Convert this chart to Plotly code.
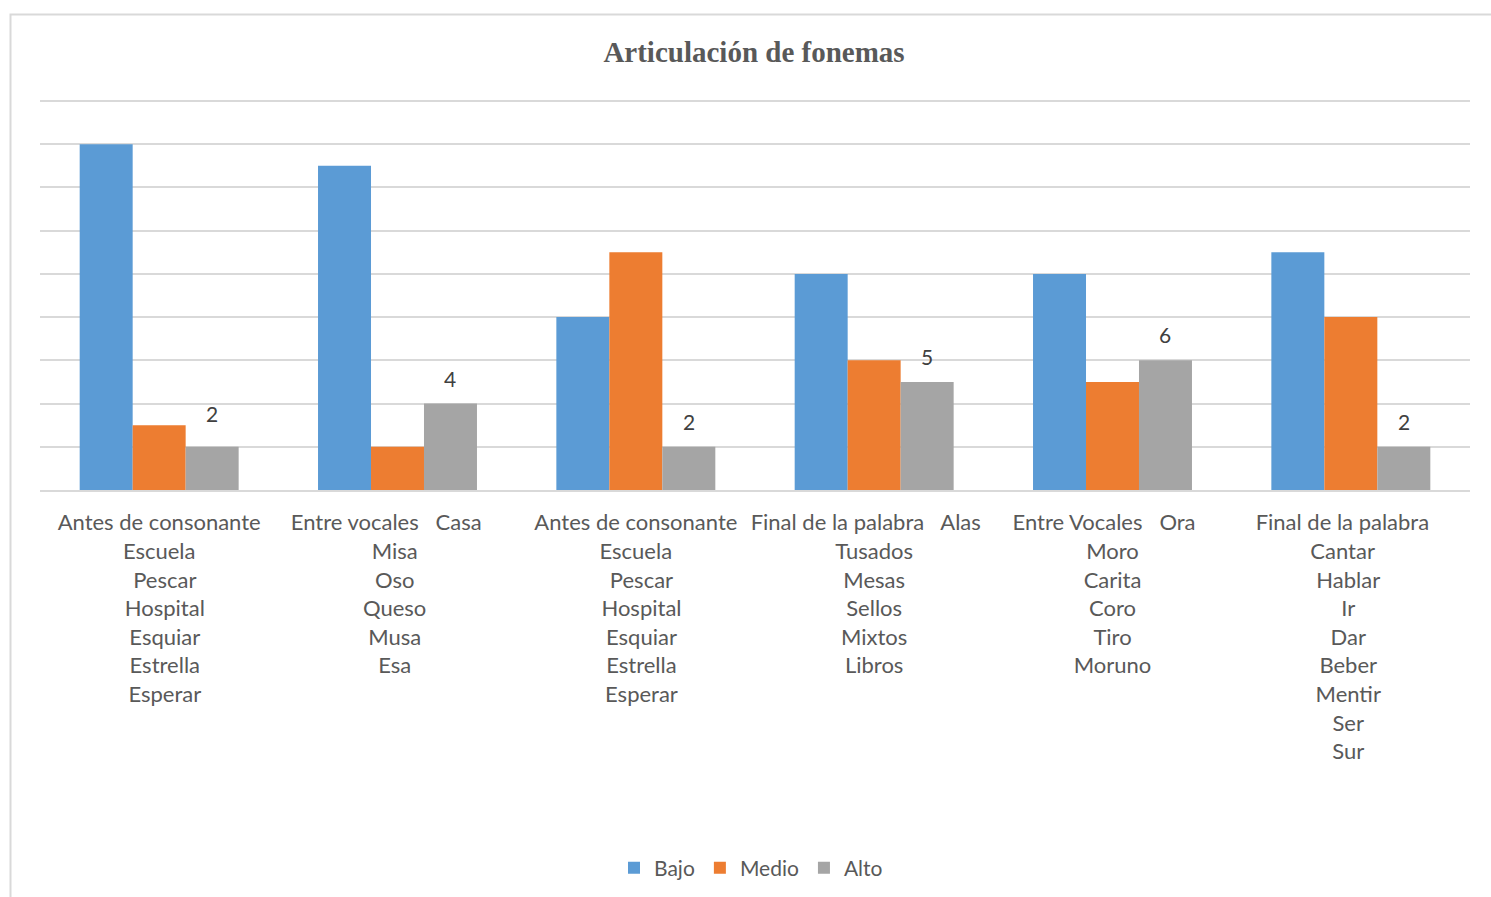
import plotly.graph_objects as go

NB = "\u00a0"

# Categories (multi-line labels: position + example words)
categories = [
    ["Antes de consonante", "Escuela", "  Pescar", "  Hospital", "  Esquiar", "  Estrella", "  Esperar"],
    ["Entre vocales   Casa    ", "Misa ", "Oso ", "Queso ", "Musa ", "Esa "],
    ["Antes de consonante", "Escuela", "  Pescar", "  Hospital", "  Esquiar", "  Estrella", "  Esperar"],
    ["Final de la palabra   Alas   ", "Tusados", "Mesas", "Sellos", "Mixtos", "Libros"],
    ["Entre Vocales   Ora   ", "Moro", "Carita", "Coro", "Tiro", "Moruno"],
    ["Final de la palabra   ", "Cantar   ", "Hablar ", "Ir ", "Dar ", "Beber ", "Mentir ", "Ser ", "Sur "],
]
bajo = [16, 15, 8, 10, 10, 11]
medio = [3, 2, 11, 6, 5, 8]
alto = [2, 4, 2, 5, 6, 2]

# vertical lift (px) of each value label above its bar
label_lift = [19, 11, 11, 11, 11, 11]

x = list(range(len(categories)))
tick_text = ["<br>".join(line.replace(" ", NB) for line in c) for c in categories]

TEXT = "#595959"
FONT = "Lato"
BARGAP = 0.333

fig = go.Figure()
fig.add_trace(go.Bar(name="Bajo", x=x, y=bajo, marker=dict(color="#5B9BD5", line_width=0)))
fig.add_trace(go.Bar(name="Medio", x=x, y=medio, marker=dict(color="#ED7D31", line_width=0)))
fig.add_trace(go.Bar(name="Alto", x=x, y=alto, marker=dict(color="#A5A5A5", line_width=0)))

# value labels above the "Alto" bars (third bar of each group)
bar_w = (1 - BARGAP) / 3
for xi, v, lift in zip(x, alto, label_lift):
    fig.add_annotation(x=xi + bar_w, y=v, text=str(v), showarrow=False,
                       yanchor="bottom", yshift=lift,
                       font=dict(family=FONT, size=21, color="#404040"))

# plot area: 18 units over 389 px, with a little headroom so the top gridline shows
L, R, T, B = 40, 21, 95, 407
pw, ph = 1491 - L - R, 897 - T - B
px_per_unit = 389 / 18
y_top = ph / px_per_unit

# chart-area frame
fig.add_shape(type="rect", xref="paper", yref="paper",
              x0=(10.5 - L) / pw, x1=1.2, y0=-1.5, y1=(490 - 14.5) / ph,
              line=dict(color="#d9d9d9", width=2), fillcolor="rgba(0,0,0,0)", layer="below")

fig.update_layout(
    width=1491, height=897,
    margin=dict(l=L, r=R, t=T, b=B),
    paper_bgcolor="white", plot_bgcolor="white",
    barmode="group", bargap=BARGAP, bargroupgap=0,
    title=dict(text="<b>Articulación de fonemas</b>", x=754 / 1491, xanchor="center",
               y=1 - 52 / 897, yanchor="middle",
               font=dict(family="Liberation Serif", size=29, color=TEXT)),
    legend=dict(orientation="h", x=751 / 1491, xanchor="center", xref="container",
                y=1 - 868 / 897, yref="container", yanchor="middle",
                font=dict(family=FONT, size=21, color=TEXT), itemwidth=30,
                traceorder="normal"),
    xaxis=dict(tickmode="array", tickvals=x, ticktext=tick_text, range=[-0.5, 5.5],
               showgrid=False, showline=True, linecolor="#d9d9d9", linewidth=2,
               ticks="", tickfont=dict(family=FONT, size=22, color=TEXT),
               ticklabelstandoff=12, tickangle=0),
    yaxis=dict(range=[0, y_top], tickmode="array", tickvals=list(range(2, 19, 2)),
               showticklabels=False, gridcolor="#d9d9d9",
               gridwidth=2, zeroline=False, showline=False, ticks=""),
)

fig.write_html("out.html")
